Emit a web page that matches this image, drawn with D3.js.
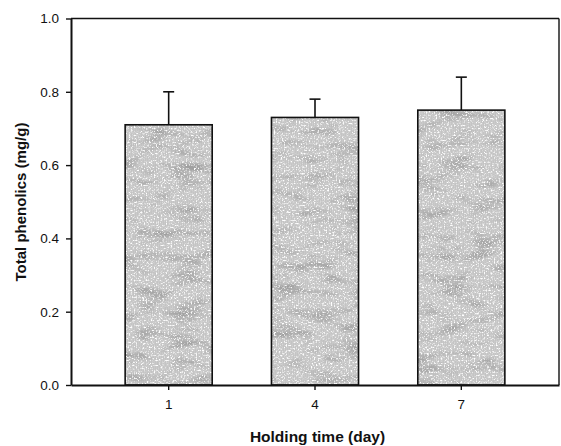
<!DOCTYPE html>
<html>
<head>
<meta charset="utf-8">
<script src="https://cdn.jsdelivr.net/npm/d3@7"></script>
<style>
  html, body { margin: 0; padding: 0; background: #fff; }
  svg { display: block; font-family: "Liberation Sans", Arial, sans-serif; }
</style>
</head>
<body>
<div id="chart"></div>
<script>
// data
const days = ['1', '4', '7'];
const phenolics = [0.71, 0.73, 0.75];
const errors = [0.09, 0.05, 0.09];
const yTicks = [0.0, 0.2, 0.4, 0.6, 0.8, 1.0];

const width = 561;
const height = 446;
const margin = {top: 18.5, right: 2, bottom: 61, left: 71};
const innerW = width - margin.left - margin.right;
const innerH = height - margin.top - margin.bottom;

const svg = d3.select('#chart')
    .append('svg')
    .attr('width', width)
    .attr('height', height);

// scanned-looking grey fill: dither + blotches + white specks
const defs = svg.append('defs');

const pat = defs.append('pattern')
    .attr('id', 'dither')
    .attr('width', 2).attr('height', 2)
    .attr('patternUnits', 'userSpaceOnUse');
pat.append('rect').attr('width', 2).attr('height', 2).attr('fill', '#e4e4e4');
pat.append('rect').attr('width', 1).attr('height', 1).attr('fill', '#a4a4a4');
pat.append('rect').attr('x', 1).attr('y', 1).attr('width', 1).attr('height', 1).attr('fill', '#b0b0b0');

const blotch = defs.append('filter')
    .attr('id', 'blotch')
    .attr('x', 0).attr('y', 0).attr('width', 1).attr('height', 1);
blotch.append('feTurbulence')
    .attr('type', 'fractalNoise')
    .attr('baseFrequency', '0.03 0.09')
    .attr('numOctaves', 3)
    .attr('seed', 7);
blotch.append('feColorMatrix')
    .attr('type', 'matrix')
    .attr('values', '0 0 0 0 0.35  0 0 0 0 0.35  0 0 0 0 0.35  2.6 0 0 0 -1.25');

const speck = defs.append('filter')
    .attr('id', 'speck')
    .attr('x', 0).attr('y', 0).attr('width', 1).attr('height', 1);
speck.append('feTurbulence')
    .attr('type', 'fractalNoise')
    .attr('baseFrequency', '0.6 0.6')
    .attr('numOctaves', 2)
    .attr('seed', 11);
speck.append('feColorMatrix')
    .attr('type', 'matrix')
    .attr('values', '0 0 0 0 1  0 0 0 0 1  0 0 0 0 1  4.2 0 0 0 -2.2');

const g = svg.append('g')
    .attr('transform', `translate(${margin.left},${margin.top})`);

const x = d3.scaleBand()
    .domain(days)
    .range([0, innerW])
    .paddingInner(0.405)
    .paddingOuter(0.37);

const y = d3.scaleLinear()
    .domain([0, 1])
    .range([innerH, 0]);

// bars
const bars = g.append('g')
    .selectAll('g')
    .data(days)
    .join('g');

const barRect = (sel) => sel
    .attr('x', (d) => x(d))
    .attr('y', (d, i) => y(phenolics[i]))
    .attr('width', x.bandwidth())
    .attr('height', (d, i) => innerH - y(phenolics[i]));

bars.append('rect').call(barRect).attr('fill', 'url(#dither)');
bars.append('rect').call(barRect).attr('fill', '#fff').attr('filter', 'url(#blotch)');
bars.append('rect').call(barRect).attr('fill', '#fff').attr('filter', 'url(#speck)');
bars.append('rect').call(barRect)
    .attr('fill', 'none')
    .attr('stroke', '#111')
    .attr('stroke-width', 1.6);

// error bars, upper half only
const cx = (d) => x(d) + x.bandwidth() / 2;
bars.append('line')
    .attr('x1', cx).attr('x2', cx)
    .attr('y1', (d, i) => y(phenolics[i]))
    .attr('y2', (d, i) => y(phenolics[i] + errors[i]))
    .attr('stroke', '#111')
    .attr('stroke-width', 1.6);
bars.append('line')
    .attr('x1', (d) => cx(d) - 5.5).attr('x2', (d) => cx(d) + 5.5)
    .attr('y1', (d, i) => y(phenolics[i] + errors[i]))
    .attr('y2', (d, i) => y(phenolics[i] + errors[i]))
    .attr('stroke', '#111')
    .attr('stroke-width', 1.6);

// frame
g.append('line')
    .attr('x1', 0).attr('x2', innerW)
    .attr('y1', 0).attr('y2', 0)
    .attr('stroke', '#111').attr('stroke-width', 1.4);
g.append('line')
    .attr('x1', innerW).attr('x2', innerW)
    .attr('y1', 0).attr('y2', innerH)
    .attr('stroke', '#111').attr('stroke-width', 1.4);

// axes
const yAxis = g.append('g')
    .call(d3.axisLeft(y)
        .tickValues(yTicks)
        .tickFormat(d3.format('.1f'))
        .tickSize(5)
        .tickSizeOuter(0)
        .tickPadding(7));

const xAxis = g.append('g')
    .attr('transform', `translate(0,${innerH})`)
    .call(d3.axisBottom(x)
        .tickSize(5)
        .tickSizeOuter(0)
        .tickPadding(9.5));

[yAxis, xAxis].forEach((ax) => {
  ax.select('.domain').attr('stroke', '#111').attr('stroke-width', 2);
  ax.selectAll('.tick line').attr('stroke', '#111').attr('stroke-width', 1.4);
  ax.selectAll('.tick text')
      .attr('fill', '#111')
      .style('font-size', '13.5px');
});

// axis titles
svg.append('text')
    .attr('transform', 'translate(26,202) rotate(-90)')
    .attr('text-anchor', 'middle')
    .attr('fill', '#111')
    .style('font-size', '15px')
    .style('font-weight', 'bold')
    .text('Total phenolics (mg/g)');

svg.append('text')
    .attr('x', 317.5)
    .attr('y', 442)
    .attr('text-anchor', 'middle')
    .attr('fill', '#111')
    .style('font-size', '15.5px')
    .style('font-weight', 'bold')
    .text('Holding time (day)');
</script>
</body>
</html>
